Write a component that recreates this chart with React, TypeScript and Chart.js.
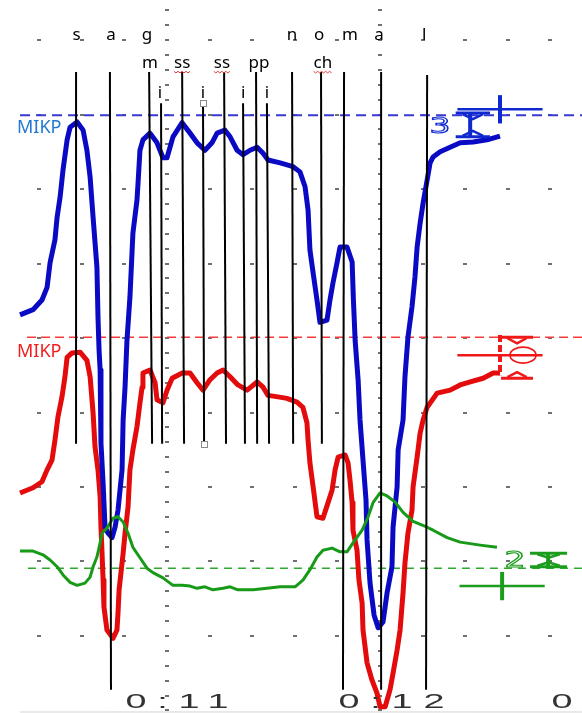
import React, { useEffect, useRef } from 'react';
import { Chart, registerables } from 'chart.js';

Chart.register(...registerables);

// ---- axis extents (time in s, 0:11 = 11.0 ; level in arbitrary units) ----
const X_MIN = 10.216;
const X_MAX = 12.948;
const Y_MIN = -0.336;
const Y_MAX = 95.37;

// ---- time ticks ----
const tickTimes = [11, 12, 13];
const tickLabels = ['0:11', '0:12', '0:13'];
const gridTimes = [10.4, 10.6, 10.8, 11.0, 11.2, 11.4, 11.6, 11.8, 12.0, 12.2, 12.4, 12.6, 12.8];
const gridLevels = [10, 20, 30, 40, 50, 60, 70, 80, 90];
const majorTimes = [11, 12];

// ---- blue channel ----
const blueTime = [10.310,10.371,10.413,10.437,10.451,10.474,10.484,10.498,10.512,10.531,10.545,10.578,10.606,10.624,10.639,10.653,10.671,10.676,10.681,10.686,10.690,10.700,10.709,10.723,10.742,10.756,10.770,10.789,10.794,10.803,10.812,10.826,10.840,10.859,10.864,10.873,10.887,10.920,10.953,10.981,11.000,11.028,11.071,11.108,11.141,11.178,11.211,11.235,11.272,11.296,11.329,11.357,11.390,11.423,11.451,11.474,11.531,11.592,11.624,11.648,11.662,11.671,11.686,11.704,11.718,11.751,11.765,11.779,11.798,11.812,11.845,11.869,11.875,11.883,11.897,11.906,11.920,11.934,11.939,11.953,11.972,11.991,12.014,12.033,12.056,12.061,12.080,12.085,12.108,12.117,12.131,12.150,12.164,12.174,12.188,12.202,12.221,12.235,12.249,12.282,12.329,12.376,12.437,12.502,12.563];
const blueLevel = [53.1,53.8,55.1,56.8,60.1,63.2,66.2,68.9,72.6,76.6,78.3,79.0,77.9,75.2,71.6,66.2,59.5,52.8,48.4,45.7,35.9,30.5,24.6,23.8,23.2,24.6,26.9,32.3,39.0,43.4,49.7,55.5,64.1,68.5,70.8,75.2,76.6,77.5,76.2,74.2,74.2,77.0,78.9,77.5,76.2,75.2,76.2,77.5,77.9,77.0,75.2,74.6,75.2,75.6,74.8,73.9,73.5,73.0,72.3,70.3,67.2,61.8,58.7,55.1,52.1,52.4,55.1,57.4,60.1,62.2,62.2,60.2,55.1,49.7,44.4,39.0,33.6,28.3,22.9,17.1,12.8,11.1,11.9,15.8,19.3,24.6,30.0,35.0,39.0,44.8,50.1,54.2,58.2,62.2,65.4,68.1,71.2,73.5,74.3,75.0,75.6,76.2,76.3,76.6,77.1];

// ---- red channel ----
const redTime = [10.310,10.371,10.413,10.437,10.460,10.474,10.488,10.507,10.521,10.531,10.554,10.592,10.624,10.639,10.653,10.662,10.676,10.686,10.690,10.695,10.700,10.704,10.718,10.747,10.765,10.770,10.775,10.794,10.803,10.817,10.826,10.840,10.859,10.873,10.883,10.887,10.920,10.944,10.953,10.981,11.000,11.024,11.071,11.108,11.141,11.169,11.202,11.235,11.263,11.296,11.333,11.376,11.423,11.451,11.474,11.521,11.563,11.610,11.638,11.657,11.662,11.671,11.686,11.704,11.732,11.756,11.775,11.789,11.803,11.836,11.850,11.859,11.869,11.873,11.892,11.901,11.916,11.920,11.939,11.962,11.986,12.000,12.024,12.047,12.061,12.080,12.094,12.108,12.117,12.131,12.150,12.155,12.174,12.188,12.202,12.221,12.268,12.329,12.376,12.423,12.484,12.531,12.563];
const redLevel = [29.2,29.9,30.7,32.3,33.6,36.3,39.4,42.1,44.8,47.4,48.0,48.1,47.0,44.8,39.9,35.4,32.3,28.7,24.6,21.1,17.5,13.9,10.8,9.7,10.8,13.1,16.2,21.1,23.8,27.3,32.3,35.0,38.1,41.3,43.4,45.3,45.7,44.0,41.7,41.3,43.0,44.6,45.3,45.3,44.0,43.0,44.4,45.3,45.7,44.8,43.7,43.0,44.1,43.4,42.3,42.1,41.9,41.4,40.7,38.6,36.3,33.2,30.0,26.0,25.8,27.9,29.6,32.3,34.0,34.3,33.2,30.9,27.9,24.2,21.5,17.5,14.4,10.8,6.4,4.1,2.3,0.5,0.5,2.8,5.0,8.1,10.8,15.8,19.8,23.8,26.9,30.0,34.0,37.2,39.0,40.7,42.6,43.0,43.7,44.1,44.6,45.3,45.3];

// ---- green channel ----
const greenTime = [10.310,10.371,10.418,10.451,10.484,10.512,10.545,10.578,10.615,10.639,10.653,10.671,10.686,10.695,10.718,10.747,10.770,10.794,10.817,10.840,10.873,10.906,10.934,10.981,11.028,11.071,11.108,11.141,11.178,11.216,11.263,11.296,11.333,11.404,11.469,11.531,11.601,11.638,11.671,11.704,11.732,11.775,11.812,11.845,11.873,11.916,11.944,11.967,12.000,12.033,12.070,12.108,12.155,12.221,12.249,12.315,12.376,12.470,12.549];
const greenLevel = [21.4,21.4,20.9,20.2,19.3,18.2,17.2,16.8,17.1,17.9,19.3,20.6,22.5,23.8,24.5,25.8,26.0,25.3,23.8,21.9,20.5,19.1,18.5,17.8,16.8,16.8,16.7,16.4,16.6,16.2,16.4,16.6,16.2,16.2,16.4,16.6,16.6,17.5,18.9,20.6,21.5,21.8,21.3,21.3,22.5,24.2,26.0,27.9,29.2,28.8,28.0,26.6,25.4,24.6,24.2,23.2,22.6,22.2,21.9];

// ---- reference (dashed) levels: blue, red, green ----
const refLevels = [79.9, 50.1, 19.1];
const refStart = [10.310, 10.343, 10.347];

// ---- channel labels ----
const channelNames = ['MIKP', 'MIKP'];
const channelNameLevels = [77.5, 47.4];
const channelNameTime = 10.296;

// ---- segment boundaries ----
const boundaryTimeTop = [10.573,10.732,10.916,10.972,11.071,11.169,11.268,11.357,11.418,11.469,11.587,11.723,11.831,12.005,12.221];
const boundaryTimeBottom = [10.573,10.737,10.930,10.977,11.080,11.174,11.277,11.366,11.423,11.479,11.592,11.727,11.826,12.005,12.216];
const boundaryLevelTop = [85.7,85.7,85.7,81.5,85.7,81.5,85.7,81.5,85.7,81.5,85.7,85.7,85.7,85.7,85.3];
const boundaryLevelBottom = [35.8,2.8,35.8,35.8,35.8,35.8,35.8,35.8,35.8,35.8,35.8,35.8,2.8,2.8,2.8];
const selectedBoundary = 5;

// ---- segment labels ----
const row1Text = ['s', 'a', 'g', 'n', 'o', 'm', 'a', 'l'];
const row1Time = [10.575, 10.737, 10.906, 11.587, 11.714, 11.859, 11.995, 12.207];
const row2Text = ['m', 'ss', 'ss', 'pp', 'ch'];
const row2Time = [10.920, 11.071, 11.258, 11.432, 11.732];
const row2Flagged = [false, true, true, false, true];
const row3Text = ['i', 'i', 'i', 'i'];
const row3Time = [10.967, 11.169, 11.357, 11.469];
const rowLevels = [90.0, 86.2, 82.2];

// ---- calibration markers (blue, red, green) ----
const crossTime = [12.563, 12.563, 12.573];
const crossLevel = [80.7, 47.7, 16.7];
const crossHalfTime = 0.2;
const crossHalfLevel = [1.9, 2.7, 1.9];
const beamStem = [12.423, 12.563, 12.789];
const beamLeft = [12.355, 12.568, 12.704];
const beamRight = [12.516, 12.718, 12.878];
const beamTop = [80.2, 50.1, 21.1];
const beamBottom = [77.0, 44.6, 19.3];
const gainText = ['3', '', '2'];
const gainTime = [12.282, 0, 12.634];
const gainLevel = [77.5, 0, 19.3];
const ringTime = 12.671;
const ringLevel = 47.7;

const BLUE = '#0a0ac4';
const RED = '#e30b0b';
const GREEN = '#179a17';
const markerColors = ['#1028d0', '#f01818', '#1c9c1c'];

const pts = (t: number[], v: number[]) => t.map((x, i) => ({ x, y: v[i] }));

const annotate = {
  id: 'annotate',
  beforeDatasetsDraw(chart: any) {
    const { ctx } = chart;
    const xs = chart.scales.x;
    const ys = chart.scales.y;
    ctx.save();
    ctx.fillStyle = '#707070';
    for (const t of gridTimes) {
      for (const v of gridLevels) {
        const px = xs.getPixelForValue(t);
        const py = ys.getPixelForValue(v);
        ctx.fillRect(Math.round(px) - 2, Math.round(py) - 1, 4, 2);
      }
    }
    const minorLevels = Array.from({ length: 48 }, (_, i) => i * 2);
    for (const t of majorTimes) {
      for (const v of minorLevels) {
        const px = xs.getPixelForValue(t);
        const py = ys.getPixelForValue(v);
        ctx.fillRect(Math.round(px) - 2, Math.round(py) - 1, 4, 2);
      }
    }
    // faint bottom rule
    ctx.strokeStyle = '#d4d4d4';
    ctx.lineWidth = 1;
    ctx.beginPath();
    ctx.moveTo(xs.getPixelForValue(refStart[0]), ys.getPixelForValue(-0.2));
    ctx.lineTo(xs.getPixelForValue(X_MAX), ys.getPixelForValue(-0.2));
    ctx.stroke();
    ctx.restore();
  },
  afterDatasetsDraw(chart: any) {
    const { ctx } = chart;
    const xs = chart.scales.x;
    const ys = chart.scales.y;
    const X = (t: number) => xs.getPixelForValue(t);
    const Y = (v: number) => ys.getPixelForValue(v);
    const seg = (x1: number, y1: number, x2: number, y2: number) => {
      ctx.beginPath();
      ctx.moveTo(x1, y1);
      ctx.lineTo(x2, y2);
      ctx.stroke();
    };
    ctx.save();

    // boundaries
    ctx.strokeStyle = '#000';
    ctx.lineWidth = 2;
    boundaryTimeTop.forEach((t, i) => {
      seg(X(t), Y(boundaryLevelTop[i]), X(boundaryTimeBottom[i]), Y(boundaryLevelBottom[i]));
    });
    // selection handles
    ctx.lineWidth = 1;
    ctx.strokeStyle = '#8a8a8a';
    ctx.fillStyle = '#fff';
    [[boundaryTimeTop[selectedBoundary], boundaryLevelTop[selectedBoundary]],
     [boundaryTimeBottom[selectedBoundary], boundaryLevelBottom[selectedBoundary]]].forEach(([t, v]) => {
      const px = Math.round(X(t)), py = Math.round(Y(v));
      ctx.fillRect(px - 3, py - 3, 7, 7);
      ctx.strokeRect(px - 3 + 0.5, py - 3 + 0.5, 6, 6);
    });

    // segment labels
    ctx.fillStyle = '#000';
    ctx.font = '17px "Noto Sans"';
    ctx.textAlign = 'center';
    ctx.textBaseline = 'alphabetic';
    const rows: [string[], number[], number][] = [
      [row1Text, row1Time, rowLevels[0]],
      [row2Text, row2Time, rowLevels[1]],
      [row3Text, row3Time, rowLevels[2]],
    ];
    rows.forEach(([texts, times, lvl], r) => {
      texts.forEach((s, i) => {
        const cx = X(times[i]);
        const by = Y(lvl);
        ctx.fillStyle = '#000';
        ctx.fillText(s, cx, by);
        if (r === 1 && row2Flagged[i]) {
          const w = ctx.measureText(s).width;
          ctx.strokeStyle = '#e03a3a';
          ctx.lineWidth = 1;
          ctx.beginPath();
          let k = 0;
          for (let x = cx - w / 2; x <= cx + w / 2; x += 2) {
            const yy = by + 3 + (k % 2 === 0 ? 0 : 1.6);
            if (k === 0) ctx.moveTo(x, yy); else ctx.lineTo(x, yy);
            k++;
          }
          ctx.stroke();
        }
      });
    });

    // channel names
    ctx.textAlign = 'left';
    ctx.font = '18px "Noto Sans"';
    channelNames.forEach((n, i) => {
      ctx.fillStyle = i === 0 ? '#1f78d1' : '#f21d1d';
      ctx.fillText(n, X(channelNameTime), Y(channelNameLevels[i]));
    });

    // calibration markers
    crossTime.forEach((t, i) => {
      const col = markerColors[i];
      ctx.strokeStyle = col;
      ctx.fillStyle = col;
      // cross
      ctx.setLineDash([]);
      ctx.lineWidth = 2.5;
      seg(X(t - crossHalfTime), Y(crossLevel[i]), X(t + crossHalfTime), Y(crossLevel[i]));
      ctx.lineWidth = 4;
      if (i === 1) ctx.setLineDash([7, 3]);
      seg(X(t), Y(crossLevel[i] + crossHalfLevel[i]), X(t), Y(crossLevel[i] - crossHalfLevel[i]));
      ctx.setLineDash([]);
      // beam
      const sx = X(beamStem[i]);
      const ty = Y(beamTop[i]);
      const by = Y(beamBottom[i]);
      ctx.lineWidth = 4;
      if (i !== 1) seg(sx, ty, sx, by);
      ctx.lineWidth = 3;
      seg(X(beamLeft[i]), ty, X(beamRight[i]), ty);
      seg(X(beamLeft[i]), by, X(beamRight[i]), by);
      const ax = (X(beamRight[i]) - X(beamLeft[i])) * 0.3;
      const mx = (X(beamRight[i]) + X(beamLeft[i])) / 2;
      const ah = Math.min(6, Math.abs(by - ty) / 3);
      ctx.lineWidth = 2.5;
      ctx.beginPath();
      ctx.moveTo(mx - ax, ty + 1);
      ctx.lineTo(mx, ty + ah);
      ctx.lineTo(mx + ax, ty + 1);
      ctx.moveTo(mx - ax, by - 1);
      ctx.lineTo(mx, by - ah);
      ctx.lineTo(mx + ax, by - 1);
      ctx.stroke();
      // gain digit
      if (gainText[i]) {
        ctx.save();
        ctx.translate(X(gainTime[i]), Y(gainLevel[i]));
        ctx.scale(1.5, 1);
        ctx.font = '22px "DejaVu Sans"';
        ctx.textAlign = 'center';
        ctx.lineWidth = 1.1;
        ctx.strokeText(gainText[i], 0, 0);
        ctx.restore();
      }
    });
    // red ring
    ctx.strokeStyle = markerColors[1];
    ctx.lineWidth = 1.6;
    ctx.beginPath();
    ctx.ellipse(X(ringTime), Y(ringLevel), 13, 8, 0, 0, Math.PI * 2);
    ctx.stroke();

    // time labels
    ctx.fillStyle = '#333';
    ctx.font = '21px "Liberation Sans"';
    ctx.textAlign = 'left';
    (ctx as any).letterSpacing = '6px';
    tickTimes.forEach((t, i) => {
      ctx.save();
      ctx.translate(X(t) - 41.6, chart.chartArea.bottom - 5);
      ctx.scale(1.8, 1);
      ctx.fillText(tickLabels[i], 0, 0);
      ctx.restore();
    });
    (ctx as any).letterSpacing = '0px';
    ctx.restore();
  },
};

export default function App() {
  const ref = useRef<HTMLCanvasElement | null>(null);
  useEffect(() => {
    document.body.style.margin = '0';
    document.body.style.overflow = 'hidden';
    const canvas = ref.current;
    if (!canvas) return;
    const refDs = (i: number, color: string, width: number, dash: number[]) => ({
      data: [{ x: refStart[i], y: refLevels[i] }, { x: X_MAX, y: refLevels[i] }],
      borderColor: color,
      borderWidth: width,
      borderDash: dash,
      pointRadius: 0,
      order: 10,
    });
    const chart = new Chart(canvas, {
      type: 'line',
      data: {
        datasets: [
          refDs(0, '#3838d4', 2, [10, 6]),
          refDs(1, '#f83a3a', 1.5, [9, 5]),
          refDs(2, '#2ea82e', 1.5, [8, 6]),
          { data: pts(redTime, redLevel), borderColor: RED, borderWidth: 5, pointRadius: 0, order: 3 },
          { data: pts(blueTime, blueLevel), borderColor: BLUE, borderWidth: 5, pointRadius: 0, order: 2 },
          { data: pts(greenTime, greenLevel), borderColor: GREEN, borderWidth: 3, pointRadius: 0, order: 1 },
        ] as any,
      },
      options: {
        animation: false,
        responsive: false,
        maintainAspectRatio: false,
        devicePixelRatio: 1,
        layout: { padding: 0 },
        elements: { line: { tension: 0, borderJoinStyle: 'round', borderCapStyle: 'butt' } },
        plugins: { legend: { display: false }, tooltip: { enabled: false } },
        scales: {
          x: { type: 'linear', min: X_MIN, max: X_MAX, display: false },
          y: { type: 'linear', min: Y_MIN, max: Y_MAX, display: false },
        },
      } as any,
      plugins: [annotate],
    });
    return () => chart.destroy();
  }, []);
  return (
    <div style={{ position: 'fixed', left: 0, top: 0, width: 582, height: 713, background: '#fff' }}>
      <canvas ref={ref} width={582} height={713} style={{ display: 'block' }} />
    </div>
  );
}
